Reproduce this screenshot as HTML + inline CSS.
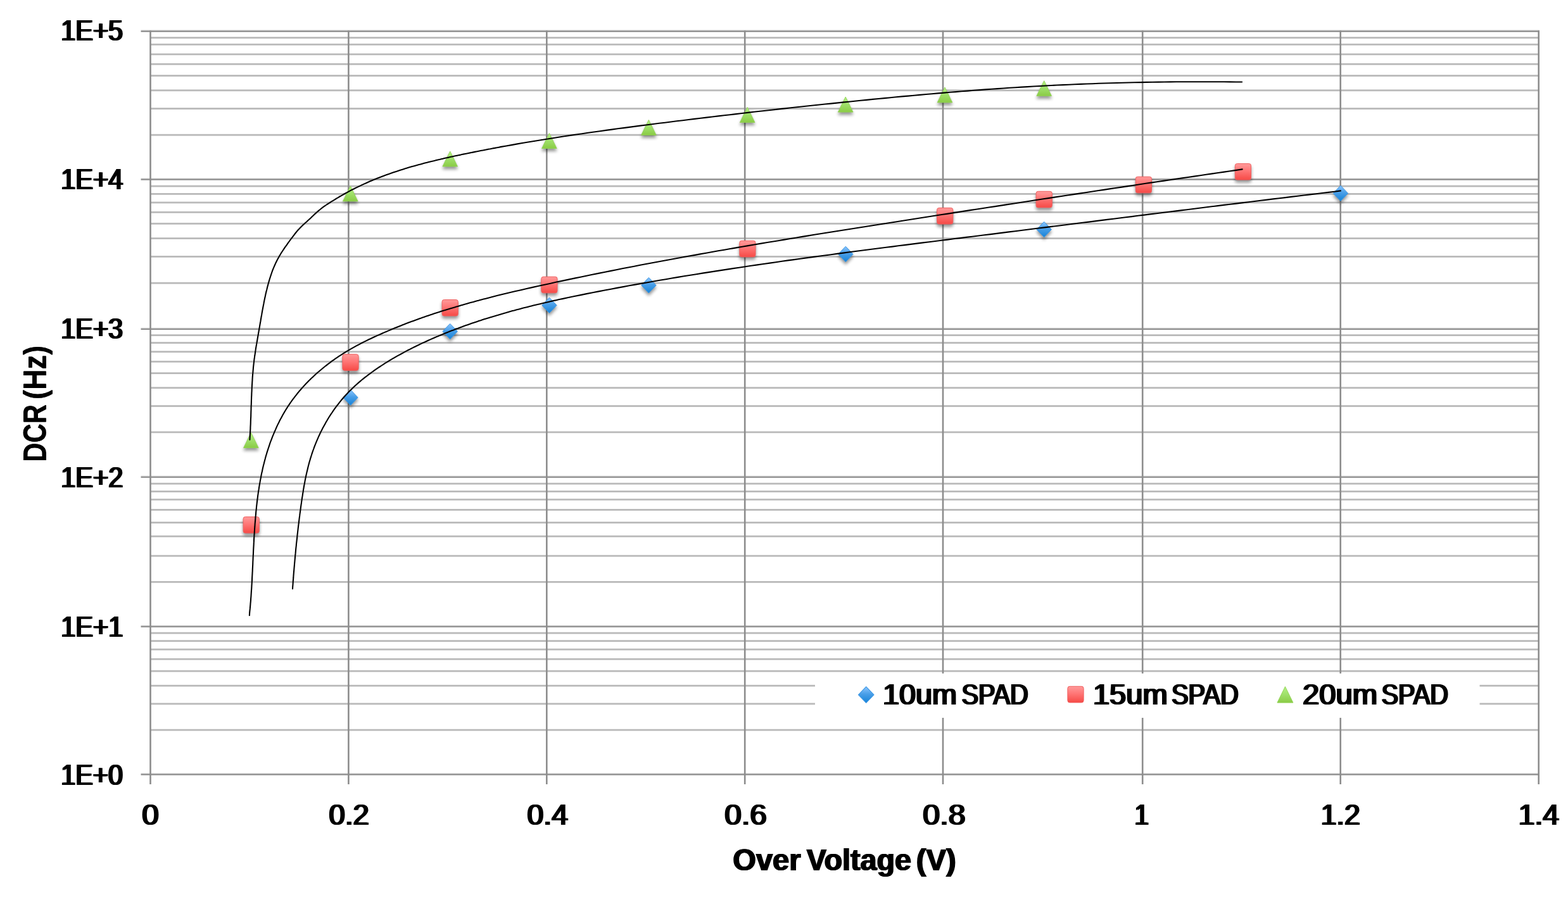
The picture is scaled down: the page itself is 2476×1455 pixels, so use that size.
<!DOCTYPE html>
<html lang="en"><head><meta charset="utf-8"><title>DCR vs Over Voltage</title>
<style>html,body{margin:0;padding:0;background:#fff;}body{width:2476px;height:1455px;overflow:hidden;}svg{display:block;}text{font-family:'Liberation Sans', 'DejaVu Sans', sans-serif;fill:#000;}</style>
</head><body>
<svg width="2476" height="1455" viewBox="0 0 2476 1455" role="img" aria-label="DCR (Hz) versus Over Voltage (V) for 10um, 15um and 20um SPAD">
<defs>
<linearGradient id="gB" x1="0" y1="0" x2="0" y2="1"><stop offset="0" stop-color="#8cc6ff"/><stop offset="0.45" stop-color="#4a9fe8"/><stop offset="1" stop-color="#1583d8"/></linearGradient>
<linearGradient id="gR" x1="0" y1="0" x2="0" y2="1"><stop offset="0" stop-color="#ff9a9a"/><stop offset="0.45" stop-color="#ff7676"/><stop offset="1" stop-color="#f64a46"/></linearGradient>
<linearGradient id="gG" x1="0" y1="0" x2="0" y2="1"><stop offset="0" stop-color="#b4f284"/><stop offset="0.5" stop-color="#9fe06a"/><stop offset="1" stop-color="#8acb45"/></linearGradient>
<filter id="sh" x="-60%" y="-60%" width="220%" height="240%" color-interpolation-filters="sRGB"><feGaussianBlur in="SourceAlpha" stdDeviation="2.8"/><feOffset dx="0" dy="4.4" result="b"/><feComponentTransfer><feFuncA type="linear" slope="0.42"/></feComponentTransfer><feMerge><feMergeNode/><feMergeNode in="SourceGraphic"/></feMerge></filter>
<filter id="smear0" x="-5%" y="-5%" width="110%" height="110%" color-interpolation-filters="sRGB"><feOffset in="SourceGraphic" dx="1" dy="0" result="r"/><feMerge><feMergeNode in="r"/><feMergeNode in="SourceGraphic"/></feMerge></filter>
<filter id="smear1" x="-5%" y="-5%" width="110%" height="110%" color-interpolation-filters="sRGB"><feOffset in="SourceGraphic" dx="-1" dy="0" result="l"/><feOffset in="SourceGraphic" dx="1" dy="0" result="r"/><feMerge><feMergeNode in="l"/><feMergeNode in="r"/><feMergeNode in="SourceGraphic"/></feMerge></filter>
<filter id="smear2" x="-5%" y="-5%" width="110%" height="110%" color-interpolation-filters="sRGB"><feOffset in="SourceGraphic" dx="-1" dy="0" result="l"/><feOffset in="SourceGraphic" dx="2" dy="0" result="r"/><feMerge><feMergeNode in="l"/><feMergeNode in="r"/><feMergeNode in="SourceGraphic"/></feMerge></filter>
<path id="mD" d="M0 -12.2 L11.7 0 L0 12.2 L-11.7 0 Z" fill="url(#gB)" stroke="#3a96e4" stroke-width="1" stroke-linejoin="round"/>
<rect id="mS" x="-12.6" y="-13.1" width="25.2" height="25.6" rx="3.2" ry="3.2" fill="url(#gR)" stroke="#f06060" stroke-width="1"/>
<path id="mT" d="M0 -12 L11.8 12 L-11.8 12 Z" fill="url(#gG)" stroke="#92d455" stroke-width="0.9" stroke-linejoin="round"/>
</defs>
<rect width="2476" height="1455" fill="#fff"/>
<filter id="soft" x="-1%" y="-1%" width="102%" height="102%" color-interpolation-filters="sRGB"><feGaussianBlur stdDeviation="0.6"/></filter>
<g id="grid" filter="url(#soft)">
<g fill="#bababa">
<rect x="237.7" y="998.70" width="2192.2" height="2.8"/>
<rect x="237.7" y="1011.20" width="2192.2" height="2.8"/>
<rect x="237.7" y="1024.60" width="2192.2" height="2.8"/>
<rect x="237.7" y="1039.90" width="2192.2" height="2.8"/>
<rect x="237.7" y="1058.80" width="2192.2" height="2.8"/>
<rect x="237.7" y="1081.90" width="2192.2" height="2.8"/>
<rect x="237.7" y="1110.50" width="2192.2" height="2.8"/>
<rect x="237.7" y="1151.80" width="2192.2" height="2.8"/>
<rect x="237.7" y="762.70" width="2192.2" height="2.8"/>
<rect x="237.7" y="775.00" width="2192.2" height="2.8"/>
<rect x="237.7" y="787.80" width="2192.2" height="2.8"/>
<rect x="237.7" y="804.00" width="2192.2" height="2.8"/>
<rect x="237.7" y="824.20" width="2192.2" height="2.8"/>
<rect x="237.7" y="845.90" width="2192.2" height="2.8"/>
<rect x="237.7" y="876.80" width="2192.2" height="2.8"/>
<rect x="237.7" y="918.00" width="2192.2" height="2.8"/>
<rect x="237.7" y="528.20" width="2192.2" height="2.8"/>
<rect x="237.7" y="540.20" width="2192.2" height="2.8"/>
<rect x="237.7" y="554.30" width="2192.2" height="2.8"/>
<rect x="237.7" y="569.90" width="2192.2" height="2.8"/>
<rect x="237.7" y="588.20" width="2192.2" height="2.8"/>
<rect x="237.7" y="611.30" width="2192.2" height="2.8"/>
<rect x="237.7" y="640.10" width="2192.2" height="2.8"/>
<rect x="237.7" y="681.40" width="2192.2" height="2.8"/>
<rect x="237.7" y="292.70" width="2192.2" height="2.8"/>
<rect x="237.7" y="305.00" width="2192.2" height="2.8"/>
<rect x="237.7" y="318.60" width="2192.2" height="2.8"/>
<rect x="237.7" y="333.90" width="2192.2" height="2.8"/>
<rect x="237.7" y="351.90" width="2192.2" height="2.8"/>
<rect x="237.7" y="375.20" width="2192.2" height="2.8"/>
<rect x="237.7" y="404.00" width="2192.2" height="2.8"/>
<rect x="237.7" y="445.80" width="2192.2" height="2.8"/>
<rect x="237.7" y="58.20" width="2192.2" height="2.8"/>
<rect x="237.7" y="68.90" width="2192.2" height="2.8"/>
<rect x="237.7" y="84.40" width="2192.2" height="2.8"/>
<rect x="237.7" y="99.90" width="2192.2" height="2.8"/>
<rect x="237.7" y="118.20" width="2192.2" height="2.8"/>
<rect x="237.7" y="141.40" width="2192.2" height="2.8"/>
<rect x="237.7" y="170.20" width="2192.2" height="2.8"/>
<rect x="237.7" y="211.80" width="2192.2" height="2.8"/>
</g>
<rect x="222.5" y="1221.60" width="2208.4" height="1.5" fill="#b8b8b8"/>
<rect x="222.5" y="1223.10" width="2208.4" height="1.5" fill="#7c7c7c"/>
<rect x="222.5" y="988.00" width="2208.4" height="1.5" fill="#b8b8b8"/>
<rect x="222.5" y="989.50" width="2208.4" height="1.5" fill="#7c7c7c"/>
<rect x="222.5" y="751.80" width="2208.4" height="1.5" fill="#b8b8b8"/>
<rect x="222.5" y="753.30" width="2208.4" height="1.5" fill="#7c7c7c"/>
<rect x="222.5" y="518.00" width="2208.4" height="1.5" fill="#b8b8b8"/>
<rect x="222.5" y="519.50" width="2208.4" height="1.5" fill="#7c7c7c"/>
<rect x="222.5" y="281.60" width="2208.4" height="1.5" fill="#b8b8b8"/>
<rect x="222.5" y="283.10" width="2208.4" height="1.5" fill="#7c7c7c"/>
<rect x="222.5" y="47.50" width="2208.4" height="1.5" fill="#b8b8b8"/>
<rect x="222.5" y="49.00" width="2208.4" height="1.5" fill="#7c7c7c"/>
<rect x="236.20" y="48.4" width="2.6" height="1190.6" fill="#8d8d8d"/>
<rect x="549.10" y="48.4" width="2.6" height="1190.6" fill="#8d8d8d"/>
<rect x="862.00" y="48.4" width="2.6" height="1190.6" fill="#8d8d8d"/>
<rect x="1174.90" y="48.4" width="2.6" height="1190.6" fill="#8d8d8d"/>
<rect x="1487.70" y="48.4" width="2.6" height="1190.6" fill="#8d8d8d"/>
<rect x="1802.90" y="48.4" width="2.6" height="1190.6" fill="#8d8d8d"/>
<rect x="2115.40" y="48.4" width="2.6" height="1190.6" fill="#8d8d8d"/>
<rect x="2428.40" y="48.4" width="2.6" height="1190.6" fill="#8d8d8d"/>
</g>
<g id="markers" filter="url(#sh)">
<use href="#mD" x="553.5" y="628.0"/>
<use href="#mD" x="710.7" y="523.6"/>
<use href="#mD" x="867.4" y="482.3"/>
<use href="#mD" x="1024.4" y="450.7"/>
<use href="#mD" x="1335.3" y="401.5"/>
<use href="#mD" x="1648.7" y="362.5"/>
<use href="#mD" x="2116.9" y="305.4"/>
<use href="#mS" x="396.7" y="829.6"/>
<use href="#mS" x="553.5" y="572.8"/>
<use href="#mS" x="710.7" y="486.6"/>
<use href="#mS" x="867.4" y="450.3"/>
<use href="#mS" x="1180.4" y="393.4"/>
<use href="#mS" x="1492.2" y="341.5"/>
<use href="#mS" x="1648.7" y="315.4"/>
<use href="#mS" x="1805.9" y="292.3"/>
<use href="#mS" x="1962.9" y="271.6"/>
<use href="#mT" x="396.4" y="695.5"/>
<use href="#mT" x="553.3" y="305.9"/>
<use href="#mT" x="710.7" y="251.0"/>
<use href="#mT" x="867.4" y="222.5"/>
<use href="#mT" x="1024.4" y="201.4"/>
<use href="#mT" x="1180.2" y="181.4"/>
<use href="#mT" x="1335.2" y="165.1"/>
<use href="#mT" x="1492.0" y="149.9"/>
<use href="#mT" x="1648.7" y="139.6"/>
</g>
<g id="trend" fill="none" stroke="#000" stroke-width="2.1" stroke-linecap="round" stroke-linejoin="round">
<path d="M462.0 930.3 L462.2 926.8 L462.5 923.3 L462.7 920.5 L462.7 919.7 L463.0 916.2 L463.3 912.7 L463.4 910.7 L463.5 909.2 L463.8 905.7 L464.1 902.2 L464.2 901.0 L464.4 898.7 L464.7 895.2 L465.0 891.7 L465.0 891.3 L465.3 888.2 L465.6 884.7 L465.9 881.5 L465.9 881.2 L466.2 877.7 L466.6 874.2 L466.8 871.8 L466.9 870.7 L467.2 867.2 L467.6 863.7 L467.8 862.1 L467.9 860.2 L468.3 856.7 L468.7 853.2 L468.8 852.5 L469.1 849.7 L469.4 846.3 L469.8 842.8 L469.8 842.8 L470.2 839.3 L470.6 835.8 L470.9 833.1 L471.0 832.3 L471.4 828.8 L471.9 825.3 L472.1 823.4 L472.3 821.9 L472.7 818.4 L473.2 814.9 L473.3 813.7 L473.6 811.4 L474.1 807.9 L474.6 804.4 L474.6 804.0 L475.0 800.9 L475.5 797.4 L476.0 794.3 L476.0 793.9 L476.5 790.4 L477.0 786.9 L477.4 784.6 L477.6 783.5 L478.1 780.0 L478.7 776.5 L478.9 774.9 L479.2 773.0 L479.8 769.5 L480.4 766.0 L480.6 765.3 L481.1 762.6 L481.7 759.1 L482.4 755.6 L482.4 755.6 L483.1 752.2 L483.9 748.7 L484.5 746.1 L484.7 745.3 L485.5 741.9 L486.3 738.4 L486.8 736.5 L487.2 735.0 L488.1 731.6 L489.0 728.2 L489.4 727.1 L490.0 724.9 L491.1 721.5 L492.1 718.2 L492.2 717.8 L493.2 714.8 L494.4 711.5 L495.5 708.5 L495.6 708.2 L496.8 704.9 L498.1 701.6 L499.0 699.4 L499.4 698.3 L500.8 695.1 L502.2 691.9 L502.8 690.4 L503.6 688.7 L505.1 685.5 L506.6 682.3 L507.0 681.6 L508.2 679.2 L509.8 676.1 L511.5 673.0 L511.5 673.0 L513.2 669.9 L514.9 666.8 L516.3 664.5 L516.7 663.8 L518.5 660.8 L520.3 657.8 L521.4 656.2 L522.2 654.9 L524.2 652.0 L526.1 649.1 L526.8 648.1 L528.2 646.2 L530.2 643.4 L532.3 640.6 L532.6 640.3 L534.5 637.8 L536.6 635.1 L538.6 632.6 L538.8 632.3 L541.1 629.7 L543.4 627.0 L545.0 625.3 L545.7 624.4 L548.1 621.9 L550.5 619.3 L551.6 618.2 L553.0 616.8 L555.5 614.4 L558.0 611.9 L558.6 611.4 L560.6 609.5 L563.2 607.2 L565.8 604.9 L565.8 604.9 L568.5 602.6 L571.2 600.3 L573.3 598.6 L573.9 598.1 L576.7 595.9 L579.5 593.8 L581.0 592.6 L582.3 591.7 L585.1 589.6 L587.9 587.5 L588.9 586.8 L590.8 585.4 L593.7 583.4 L596.6 581.4 L596.9 581.2 L599.5 579.5 L602.5 577.5 L605.1 575.8 L605.4 575.6 L608.4 573.7 L611.4 571.9 L613.4 570.6 L614.4 570.0 L617.4 568.2 L620.4 566.4 L621.8 565.6 L623.5 564.6 L626.5 562.9 L629.6 561.2 L630.3 560.8 L632.7 559.5 L635.8 557.8 L638.9 556.1 L638.9 556.1 L642.0 554.4 L645.1 552.8 L647.6 551.6 L648.3 551.2 L651.4 549.6 L654.6 548.0 L656.3 547.2 L657.7 546.5 L660.9 545.0 L664.1 543.4 L665.2 542.9 L667.3 541.9 L670.5 540.5 L673.7 539.0 L674.1 538.8 L676.9 537.5 L680.1 536.1 L683.0 534.8 L683.3 534.7 L686.6 533.3 L689.8 531.9 L692.0 531.0 L693.1 530.5 L696.3 529.2 L699.6 527.9 L701.0 527.3 L702.8 526.5 L706.1 525.2 L709.3 523.9 L710.1 523.6 L712.6 522.6 L715.9 521.4 L719.2 520.1 L719.2 520.1 L722.5 518.9 L725.7 517.7 L728.3 516.7 L729.0 516.5 L732.3 515.3 L735.6 514.1 L737.5 513.4 L739.0 512.9 L742.3 511.8 L745.6 510.6 L746.7 510.2 L748.9 509.5 L752.2 508.4 L755.6 507.3 L755.9 507.1 L758.9 506.2 L762.2 505.1 L765.2 504.1 L765.6 504.0 L768.9 503.0 L772.3 501.9 L774.5 501.2 L775.6 500.9 L779.0 499.9 L782.3 498.9 L783.8 498.4 L785.7 497.9 L789.1 496.9 L792.4 495.9 L793.2 495.7 L795.8 494.9 L799.2 494.0 L802.6 493.0 L802.6 493.0 L805.9 492.1 L809.3 491.1 L812.0 490.4 L812.7 490.2 L816.1 489.3 L819.5 488.4 L821.4 487.9 L822.9 487.5 L826.3 486.6 L829.7 485.8 L830.9 485.5 L833.1 484.9 L836.5 484.0 L839.9 483.2 L840.3 483.1 L843.3 482.3 L846.8 481.5 L849.8 480.8 L850.2 480.7 L853.6 479.9 L857.0 479.1 L859.3 478.5 L860.4 478.3 L863.9 477.5 L867.3 476.7 L868.8 476.3 L870.7 475.9 L874.2 475.1 L877.6 474.4 L878.4 474.2 L881.0 473.6 L884.5 472.8 L887.9 472.1 L897.5 470.0 L907.1 468.0 L916.7 466.1 L926.2 464.1 L935.8 462.2 L945.4 460.4 L955.1 458.5 L964.7 456.7 L974.3 454.9 L983.9 453.1 L993.5 451.3 L1003.1 449.6 L1012.8 447.9 L1022.4 446.2 L1032.0 444.5 L1041.7 442.8 L1051.3 441.2 L1060.9 439.5 L1070.6 437.9 L1080.2 436.3 L1089.9 434.8 L1099.5 433.2 L1109.1 431.6 L1118.8 430.1 L1128.4 428.6 L1138.1 427.1 L1147.8 425.6 L1157.4 424.1 L1167.1 422.7 L1176.7 421.2 L1186.4 419.8 L1196.1 418.4 L1205.7 417.0 L1215.4 415.6 L1225.1 414.2 L1234.7 412.8 L1244.4 411.4 L1254.1 410.1 L1263.8 408.7 L1273.4 407.4 L1283.1 406.1 L1292.8 404.8 L1302.5 403.5 L1312.2 402.2 L1321.9 400.9 L1331.5 399.6 L1341.2 398.3 L1350.9 397.0 L1360.6 395.8 L1370.3 394.5 L1380.0 393.3 L1389.7 392.0 L1399.4 390.8 L1409.1 389.6 L1418.7 388.3 L1428.4 387.1 L1438.1 385.9 L1447.8 384.6 L1457.5 383.4 L1467.2 382.2 L1476.9 381.0 L1486.6 379.8 L1496.3 378.6 L1506.0 377.3 L1515.7 376.1 L1525.4 374.9 L1535.1 373.7 L1544.8 372.5 L1554.5 371.3 L1564.2 370.1 L1573.9 368.9 L1583.6 367.6 L1593.3 366.4 L1603.0 365.2 L1612.6 364.0 L1622.3 362.8 L1632.0 361.5 L1641.7 360.3 L1651.4 359.1 L1661.1 357.9 L1670.8 356.7 L1680.5 355.5 L1690.2 354.2 L1699.9 353.0 L1709.6 351.8 L1719.3 350.6 L1729.0 349.4 L1738.7 348.1 L1748.4 346.9 L1758.1 345.7 L1767.8 344.5 L1777.5 343.3 L1787.2 342.1 L1796.9 340.8 L1806.6 339.6 L1816.3 338.4 L1826.0 337.2 L1835.7 336.0 L1845.4 334.8 L1855.1 333.6 L1864.7 332.4 L1874.4 331.2 L1884.1 330.0 L1893.8 328.8 L1903.5 327.5 L1913.2 326.3 L1922.9 325.1 L1932.6 323.9 L1942.3 322.8 L1952.0 321.6 L1961.7 320.4 L1971.4 319.2 L1981.1 318.0 L1990.8 316.8 L2000.5 315.6 L2010.2 314.4 L2019.9 313.2 L2029.6 312.1 L2039.3 310.9 L2049.0 309.7 L2058.7 308.5 L2068.4 307.4 L2078.1 306.2 L2087.8 305.0 L2097.5 303.9 L2107.2 302.7 L2116.9 301.4"/>
<path d="M393.9 972.2 L394.1 968.7 L394.4 965.2 L394.7 962.6 L394.8 961.7 L395.1 958.2 L395.4 954.8 L395.5 953.1 L395.7 951.3 L396.0 947.8 L396.2 944.3 L396.3 943.6 L396.5 940.8 L396.7 937.3 L396.9 934.0 L396.9 933.8 L397.2 930.3 L397.4 926.8 L397.5 924.4 L397.6 923.3 L397.8 919.8 L398.0 916.3 L398.0 914.8 L398.1 912.8 L398.3 909.3 L398.5 905.7 L398.5 905.2 L398.7 902.2 L398.8 898.7 L399.0 895.5 L399.0 895.2 L399.2 891.6 L399.3 888.1 L399.4 885.9 L399.5 884.6 L399.6 881.1 L399.8 877.5 L399.9 876.2 L400.0 874.0 L400.1 870.5 L400.3 866.9 L400.3 866.6 L400.5 863.4 L400.7 859.9 L400.8 856.9 L400.9 856.4 L401.0 852.8 L401.2 849.3 L401.4 847.3 L401.4 845.8 L401.7 842.3 L401.9 838.7 L402.0 837.6 L402.1 835.2 L402.4 831.7 L402.6 828.2 L402.6 828.0 L402.9 824.7 L403.2 821.1 L403.4 818.4 L403.4 817.6 L403.8 814.1 L404.1 810.6 L404.2 808.8 L404.4 807.1 L404.8 803.6 L405.1 800.1 L405.2 799.2 L405.5 796.6 L405.9 793.1 L406.3 789.6 L406.3 789.6 L406.8 786.1 L407.2 782.7 L407.6 780.1 L407.7 779.2 L408.2 775.7 L408.8 772.2 L409.0 770.6 L409.3 768.8 L409.9 765.3 L410.5 761.9 L410.6 761.1 L411.1 758.4 L411.8 755.0 L412.4 751.7 L412.4 751.5 L413.1 748.1 L413.9 744.7 L414.4 742.3 L414.6 741.3 L415.4 737.8 L416.2 734.4 L416.6 733.0 L417.1 731.0 L418.0 727.6 L418.9 724.2 L419.0 723.7 L419.8 720.8 L420.8 717.5 L421.7 714.4 L421.8 714.1 L422.9 710.7 L424.0 707.4 L424.7 705.3 L425.1 704.1 L426.2 700.7 L427.4 697.4 L427.9 696.2 L428.7 694.1 L429.9 690.8 L431.2 687.6 L431.4 687.2 L432.6 684.3 L434.0 681.1 L435.2 678.3 L435.4 677.8 L436.8 674.6 L438.3 671.4 L439.2 669.6 L439.9 668.3 L441.4 665.1 L443.0 662.0 L443.6 661.0 L444.7 658.9 L446.4 655.8 L448.1 652.8 L448.2 652.6 L449.9 649.8 L451.7 646.8 L453.2 644.4 L453.6 643.8 L455.5 640.8 L457.5 637.9 L458.5 636.4 L459.5 635.0 L461.5 632.2 L463.6 629.3 L464.2 628.6 L465.7 626.6 L467.9 623.8 L470.1 621.0 L470.1 621.0 L472.3 618.3 L474.6 615.7 L476.3 613.7 L476.9 613.0 L479.3 610.4 L481.7 607.8 L482.8 606.6 L484.1 605.3 L486.5 602.8 L489.0 600.3 L489.6 599.7 L491.5 597.8 L494.1 595.4 L496.6 593.1 L496.7 593.0 L499.3 590.6 L501.9 588.3 L503.8 586.7 L504.6 586.0 L507.3 583.7 L510.0 581.5 L511.2 580.5 L512.7 579.3 L515.5 577.1 L518.3 574.9 L518.7 574.6 L521.1 572.8 L523.9 570.7 L526.5 568.9 L526.8 568.7 L529.6 566.7 L532.6 564.7 L534.4 563.4 L535.5 562.7 L538.4 560.8 L541.4 558.9 L542.5 558.2 L544.4 557.0 L547.4 555.2 L550.4 553.4 L550.8 553.2 L553.4 551.6 L556.5 549.8 L559.1 548.4 L559.6 548.1 L562.7 546.4 L565.8 544.8 L567.6 543.8 L568.9 543.1 L572.0 541.5 L575.2 539.9 L576.2 539.4 L578.3 538.4 L581.5 536.8 L584.7 535.3 L584.9 535.2 L587.9 533.8 L591.1 532.3 L593.6 531.1 L594.3 530.8 L597.5 529.4 L600.7 528.0 L602.4 527.2 L603.9 526.5 L607.1 525.1 L610.4 523.7 L611.3 523.4 L613.6 522.4 L616.8 521.0 L620.1 519.6 L620.1 519.6 L623.3 518.3 L626.6 517.0 L629.0 516.0 L629.8 515.7 L633.1 514.4 L636.4 513.1 L638.0 512.5 L639.7 511.8 L642.9 510.6 L646.2 509.3 L647.0 509.0 L649.5 508.1 L652.8 506.9 L656.0 505.7 L656.1 505.7 L659.4 504.5 L662.7 503.3 L665.0 502.5 L666.0 502.1 L669.3 501.0 L672.6 499.8 L674.1 499.3 L676.0 498.7 L679.3 497.6 L682.6 496.4 L683.2 496.2 L685.9 495.3 L689.3 494.2 L692.3 493.3 L692.6 493.2 L696.0 492.1 L699.3 491.0 L701.5 490.3 L702.7 490.0 L706.0 488.9 L709.4 487.9 L710.7 487.5 L712.7 486.9 L716.1 485.9 L719.5 484.9 L719.9 484.7 L722.8 483.9 L726.2 482.9 L729.1 482.1 L729.6 481.9 L732.9 480.9 L736.3 480.0 L738.3 479.4 L739.7 479.0 L743.1 478.1 L746.5 477.2 L747.6 476.9 L749.9 476.2 L753.3 475.3 L756.7 474.4 L756.9 474.3 L760.1 473.5 L763.5 472.6 L766.2 471.9 L775.5 469.5 L784.9 467.1 L794.2 464.8 L803.6 462.6 L813.0 460.3 L822.4 458.2 L831.7 456.0 L841.2 453.9 L850.6 451.8 L860.0 449.7 L869.4 447.7 L878.8 445.6 L888.2 443.6 L897.7 441.6 L907.1 439.6 L916.5 437.7 L926.0 435.7 L935.4 433.8 L944.9 431.9 L954.3 430.0 L963.7 428.1 L973.2 426.2 L982.6 424.3 L992.1 422.5 L1001.5 420.7 L1011.0 418.8 L1020.5 417.0 L1029.9 415.3 L1039.4 413.5 L1048.8 411.7 L1058.3 410.0 L1067.8 408.2 L1077.2 406.5 L1086.7 404.8 L1096.2 403.1 L1105.7 401.4 L1115.1 399.7 L1124.6 398.0 L1134.1 396.3 L1143.6 394.7 L1153.1 393.0 L1162.6 391.4 L1172.0 389.8 L1181.5 388.1 L1191.0 386.5 L1200.5 384.9 L1210.0 383.3 L1219.5 381.8 L1229.0 380.2 L1238.5 378.6 L1248.0 377.0 L1257.5 375.5 L1267.0 373.9 L1276.5 372.4 L1286.0 370.8 L1295.5 369.3 L1305.0 367.8 L1314.5 366.2 L1324.0 364.7 L1333.5 363.2 L1343.0 361.7 L1352.5 360.2 L1362.0 358.7 L1371.5 357.2 L1381.0 355.7 L1390.6 354.2 L1400.1 352.7 L1409.6 351.2 L1419.1 349.7 L1428.6 348.2 L1438.1 346.7 L1447.6 345.3 L1457.1 343.8 L1466.7 342.3 L1476.2 340.8 L1485.7 339.3 L1495.2 337.9 L1504.7 336.4 L1514.2 334.9 L1523.7 333.4 L1533.3 331.9 L1542.8 330.5 L1552.3 329.0 L1561.8 327.5 L1571.3 326.1 L1580.8 324.6 L1590.4 323.1 L1599.9 321.7 L1609.4 320.2 L1618.9 318.7 L1628.4 317.3 L1637.9 315.8 L1647.5 314.3 L1657.0 312.9 L1666.5 311.4 L1676.0 310.0 L1685.5 308.5 L1695.1 307.1 L1704.6 305.6 L1714.1 304.2 L1723.6 302.7 L1733.1 301.3 L1742.7 299.9 L1752.2 298.4 L1761.7 297.0 L1771.2 295.6 L1780.7 294.1 L1790.3 292.7 L1799.8 291.3 L1809.3 289.8 L1818.8 288.4 L1828.4 287.0 L1837.9 285.6 L1847.4 284.2 L1856.9 282.8 L1866.5 281.4 L1876.0 280.0 L1885.5 278.6 L1895.0 277.2 L1904.5 275.8 L1914.1 274.4 L1923.6 273.0 L1933.1 271.6 L1942.6 270.2 L1952.2 268.9 L1961.7 267.4"/>
<path d="M394.4 694.6 L394.6 691.1 L394.8 687.6 L394.9 685.2 L395.0 684.1 L395.2 680.6 L395.4 677.1 L395.4 675.8 L395.5 673.5 L395.7 670.0 L395.8 666.5 L395.8 666.4 L395.9 663.0 L396.1 659.5 L396.2 657.0 L396.2 656.0 L396.3 652.4 L396.4 648.9 L396.5 647.5 L396.5 645.4 L396.6 641.9 L396.8 638.4 L396.8 638.1 L396.9 634.8 L397.0 631.3 L397.1 628.7 L397.1 627.8 L397.3 624.3 L397.4 620.8 L397.5 619.2 L397.6 617.3 L397.7 613.7 L397.9 610.2 L397.9 609.8 L398.1 606.7 L398.3 603.2 L398.5 600.4 L398.5 599.7 L398.7 596.2 L399.0 592.7 L399.1 591.0 L399.3 589.2 L399.6 585.7 L399.9 582.2 L399.9 581.7 L400.2 578.7 L400.6 575.2 L400.9 572.3 L401.0 571.7 L401.4 568.2 L401.9 564.7 L402.1 563.0 L402.4 561.3 L402.9 557.8 L403.4 554.3 L403.5 553.7 L403.9 550.8 L404.5 547.4 L405.0 544.4 L405.1 543.9 L405.7 540.4 L406.3 537.0 L406.6 535.1 L406.9 533.5 L407.5 530.0 L408.1 526.6 L408.2 525.8 L408.7 523.1 L409.3 519.6 L409.9 516.5 L409.9 516.2 L410.5 512.7 L411.1 509.2 L411.5 507.2 L411.7 505.8 L412.3 502.3 L412.9 498.8 L413.1 497.9 L413.5 495.4 L414.1 491.9 L414.7 488.6 L414.8 488.4 L415.4 485.0 L416.1 481.5 L416.5 479.4 L416.7 478.1 L417.4 474.6 L418.1 471.2 L418.4 470.1 L418.9 467.7 L419.6 464.3 L420.4 461.0 L420.4 460.9 L421.3 457.5 L422.1 454.1 L422.7 451.8 L423.0 450.7 L423.9 447.3 L424.9 443.9 L425.2 442.7 L425.9 440.5 L427.0 437.2 L428.1 433.8 L428.1 433.8 L429.2 430.5 L430.4 427.2 L431.3 424.9 L431.7 423.9 L433.1 420.7 L434.5 417.5 L435.0 416.3 L436.0 414.3 L437.5 411.2 L439.2 408.1 L439.3 407.9 L440.9 405.0 L442.7 402.0 L444.0 399.8 L444.5 399.0 L446.5 396.0 L448.4 393.1 L449.2 391.9 L450.4 390.2 L452.5 387.3 L454.5 384.4 L454.7 384.1 L456.6 381.5 L458.7 378.7 L460.3 376.5 L460.8 375.9 L462.9 373.1 L465.0 370.3 L466.0 369.0 L467.2 367.5 L469.4 364.8 L471.7 362.2 L472.0 361.9 L474.1 359.7 L476.6 357.3 L478.6 355.3 L479.1 354.9 L481.7 352.5 L484.3 350.2 L485.6 349.0 L486.9 347.8 L489.5 345.4 L492.1 342.9 L492.5 342.5 L494.7 340.5 L497.2 338.1 L499.4 336.1 L499.8 335.7 L502.5 333.4 L505.1 331.2 L506.6 330.0 L507.8 329.0 L510.6 326.9 L513.5 324.9 L514.1 324.5 L516.3 323.0 L519.3 321.1 L521.9 319.5 L522.2 319.2 L525.2 317.4 L528.2 315.6 L529.9 314.5 L531.2 313.7 L534.3 311.9 L537.3 310.0 L538.1 309.6 L540.4 308.3 L543.5 306.5 L546.3 304.9 L546.6 304.8 L549.7 303.1 L552.8 301.4 L554.7 300.4 L555.9 299.8 L559.1 298.2 L562.2 296.6 L563.1 296.2 L565.4 295.1 L568.6 293.6 L571.6 292.1 L571.7 292.1 L574.9 290.6 L578.1 289.2 L580.2 288.2 L581.3 287.7 L584.6 286.3 L587.8 285.0 L588.8 284.5 L591.0 283.6 L594.3 282.3 L597.5 281.0 L597.5 281.0 L600.8 279.8 L604.1 278.5 L606.3 277.7 L607.4 277.3 L610.7 276.1 L613.9 274.9 L615.1 274.5 L617.3 273.7 L620.6 272.6 L623.9 271.5 L624.0 271.4 L627.2 270.4 L630.6 269.3 L632.9 268.5 L633.9 268.2 L637.2 267.2 L640.6 266.1 L641.9 265.7 L644.0 265.1 L647.3 264.1 L650.7 263.1 L650.9 263.1 L654.1 262.2 L657.5 261.2 L660.0 260.5 L660.8 260.3 L664.2 259.4 L667.6 258.5 L669.1 258.1 L671.0 257.6 L674.4 256.7 L677.8 255.8 L678.2 255.8 L681.3 255.0 L684.7 254.2 L687.4 253.5 L688.1 253.3 L691.5 252.5 L695.0 251.7 L696.6 251.3 L698.4 250.9 L701.8 250.1 L705.3 249.3 L705.8 249.2 L708.7 248.6 L712.1 247.8 L715.0 247.2 L715.6 247.1 L719.0 246.3 L722.5 245.6 L724.2 245.2 L725.9 244.9 L729.4 244.1 L732.8 243.4 L733.5 243.3 L736.3 242.7 L739.7 242.0 L742.7 241.4 L743.2 241.3 L746.6 240.6 L750.1 239.9 L752.0 239.5 L753.5 239.2 L757.0 238.5 L760.4 237.8 L761.2 237.7 L763.9 237.2 L767.4 236.5 L770.5 235.9 L770.8 235.8 L774.3 235.2 L777.7 234.5 L779.7 234.1 L781.2 233.9 L784.7 233.2 L788.1 232.6 L789.0 232.4 L791.6 231.9 L798.3 230.7 L807.6 229.1 L816.9 227.4 L826.2 225.8 L835.4 224.2 L844.7 222.7 L854.0 221.2 L863.3 219.7 L872.7 218.2 L882.0 216.7 L891.3 215.3 L900.6 213.9 L909.9 212.5 L919.2 211.2 L928.6 209.8 L937.9 208.5 L947.2 207.2 L956.6 205.9 L965.9 204.6 L975.2 203.3 L984.6 202.1 L993.9 200.9 L1003.3 199.6 L1012.6 198.4 L1021.9 197.2 L1031.3 196.0 L1040.6 194.8 L1050.0 193.7 L1059.3 192.5 L1068.7 191.3 L1078.0 190.2 L1087.4 189.0 L1096.7 187.9 L1106.1 186.7 L1115.5 185.6 L1124.8 184.5 L1134.2 183.4 L1143.5 182.3 L1152.9 181.2 L1162.3 180.1 L1171.6 179.0 L1181.0 177.9 L1190.3 176.8 L1199.7 175.8 L1209.1 174.7 L1218.4 173.7 L1227.8 172.6 L1237.2 171.6 L1246.5 170.5 L1255.9 169.5 L1265.3 168.5 L1274.6 167.5 L1284.0 166.5 L1293.4 165.5 L1302.8 164.5 L1312.1 163.6 L1321.5 162.6 L1330.9 161.6 L1340.3 160.7 L1349.6 159.7 L1359.0 158.8 L1368.4 157.9 L1377.8 156.9 L1387.2 156.0 L1396.5 155.1 L1405.9 154.2 L1415.3 153.3 L1424.7 152.4 L1434.1 151.6 L1443.5 150.7 L1452.9 149.9 L1462.2 149.0 L1471.6 148.2 L1481.0 147.4 L1490.4 146.6 L1499.8 145.8 L1509.2 145.1 L1518.6 144.3 L1528.0 143.6 L1537.4 142.8 L1546.8 142.1 L1556.2 141.4 L1565.6 140.8 L1575.0 140.1 L1584.4 139.5 L1593.8 138.8 L1603.2 138.2 L1612.6 137.6 L1622.0 137.1 L1631.4 136.5 L1640.8 136.0 L1650.2 135.5 L1659.6 135.0 L1669.0 134.5 L1678.5 134.1 L1687.9 133.7 L1697.3 133.3 L1706.7 132.9 L1716.1 132.5 L1725.5 132.2 L1734.9 131.8 L1744.4 131.5 L1753.8 131.2 L1763.2 131.0 L1772.6 130.7 L1782.0 130.5 L1791.5 130.3 L1800.9 130.1 L1810.3 129.9 L1819.7 129.8 L1829.2 129.6 L1838.6 129.5 L1848.0 129.4 L1857.4 129.3 L1866.9 129.3 L1876.3 129.2 L1885.7 129.2 L1895.1 129.2 L1904.6 129.2 L1914.0 129.2 L1923.4 129.3 L1932.8 129.3 L1942.3 129.4 L1951.7 129.5 L1961.1 129.5"/>
</g>
<rect x="1287" y="1064" width="1049.5" height="70" fill="#fff"/>
<g id="legend">
<use href="#mD" transform="translate(1367.7 1097.6) scale(1.05)"/>
<use href="#mS" transform="translate(1698.5 1097.4) scale(1.0)"/>
<use href="#mT" transform="translate(2029.4 1097.4) scale(1.06)"/>
</g>
<g class="labels" filter="url(#smear0)">
<text transform="translate(72.30 0) rotate(-90) scale(1 1.1174)" font-size="44" font-weight="bold"><tspan x="-729.86" textLength="90.89" lengthAdjust="spacingAndGlyphs">DCR</tspan> <tspan x="-631.11" textLength="85.35" lengthAdjust="spacingAndGlyphs">(Hz)</tspan></text>
</g>
<g class="labels" filter="url(#smear1)">
<text transform="translate(0 1374.90) scale(1 1.1074)" font-size="44" font-weight="bold"><tspan x="1157.33" textLength="107.25" lengthAdjust="spacingAndGlyphs">Over</tspan> <tspan x="1273.77" textLength="165.32" lengthAdjust="spacingAndGlyphs">Voltage</tspan> <tspan x="1446.68" textLength="63.14" lengthAdjust="spacingAndGlyphs">(V)</tspan></text>
</g>
<g class="labels" filter="url(#smear2)">
<text transform="translate(0 63.90) scale(1 1.0545)" font-size="44" font-weight="normal"><tspan x="95.74" textLength="97.93" lengthAdjust="spacingAndGlyphs">1E+5</tspan></text>
<text transform="translate(0 299.40) scale(1 1.0545)" font-size="44" font-weight="normal"><tspan x="95.74" textLength="98.03" lengthAdjust="spacingAndGlyphs">1E+4</tspan></text>
<text transform="translate(0 534.90) scale(1 1.0413)" font-size="44" font-weight="normal"><tspan x="95.74" textLength="97.93" lengthAdjust="spacingAndGlyphs">1E+3</tspan></text>
<text transform="translate(0 770.00) scale(1 1.0380)" font-size="44" font-weight="normal"><tspan x="95.73" textLength="98.18" lengthAdjust="spacingAndGlyphs">1E+2</tspan></text>
<text transform="translate(0 1006.20) scale(1 1.0446)" font-size="44" font-weight="normal"><tspan x="95.73" textLength="98.18" lengthAdjust="spacingAndGlyphs">1E+1</tspan></text>
<text transform="translate(0 1239.80) scale(1 1.0545)" font-size="44" font-weight="normal"><tspan x="95.75" textLength="97.68" lengthAdjust="spacingAndGlyphs">1E+0</tspan></text>
<text transform="translate(0 1303.00) scale(1 1.0545)" font-size="44" font-weight="normal"><tspan x="223.70" textLength="26.57" lengthAdjust="spacingAndGlyphs">0</tspan></text>
<text transform="translate(0 1303.00) scale(1 1.0545)" font-size="44" font-weight="normal"><tspan x="519.09" textLength="63.25" lengthAdjust="spacingAndGlyphs">0.2</tspan></text>
<text transform="translate(0 1303.00) scale(1 1.0545)" font-size="44" font-weight="normal"><tspan x="832.05" textLength="64.54" lengthAdjust="spacingAndGlyphs">0.4</tspan></text>
<text transform="translate(0 1303.00) scale(1 1.0545)" font-size="44" font-weight="normal"><tspan x="1143.80" textLength="66.49" lengthAdjust="spacingAndGlyphs">0.6</tspan></text>
<text transform="translate(0 1303.00) scale(1 1.0545)" font-size="44" font-weight="normal"><tspan x="1456.88" textLength="67.23" lengthAdjust="spacingAndGlyphs">0.8</tspan></text>
<text transform="translate(0 1303.00) scale(1 1.0545)" font-size="44" font-weight="normal"><tspan x="1791.01" textLength="22.54" lengthAdjust="spacingAndGlyphs">1</tspan></text>
<text transform="translate(0 1303.00) scale(1 1.0545)" font-size="44" font-weight="normal"><tspan x="2085.31" textLength="61.99" lengthAdjust="spacingAndGlyphs">1.2</tspan></text>
<text transform="translate(0 1303.00) scale(1 1.0545)" font-size="44" font-weight="normal"><tspan x="2397.18" textLength="64.42" lengthAdjust="spacingAndGlyphs">1.4</tspan></text>
<text transform="translate(0 1112.80) scale(1 1.0512)" font-size="44" font-weight="normal"><tspan x="1393.54" textLength="117.05" lengthAdjust="spacingAndGlyphs">10um</tspan> <tspan x="1517.89" textLength="105.47" lengthAdjust="spacingAndGlyphs">SPAD</tspan></text>
<text transform="translate(0 1112.80) scale(1 1.0512)" font-size="44" font-weight="normal"><tspan x="1725.43" textLength="117.69" lengthAdjust="spacingAndGlyphs">15um</tspan> <tspan x="1849.38" textLength="105.88" lengthAdjust="spacingAndGlyphs">SPAD</tspan></text>
<text transform="translate(0 1112.80) scale(1 1.0512)" font-size="44" font-weight="normal"><tspan x="2056.49" textLength="118.03" lengthAdjust="spacingAndGlyphs">20um</tspan> <tspan x="2180.99" textLength="105.47" lengthAdjust="spacingAndGlyphs">SPAD</tspan></text>
</g>
</svg>
</body></html>
